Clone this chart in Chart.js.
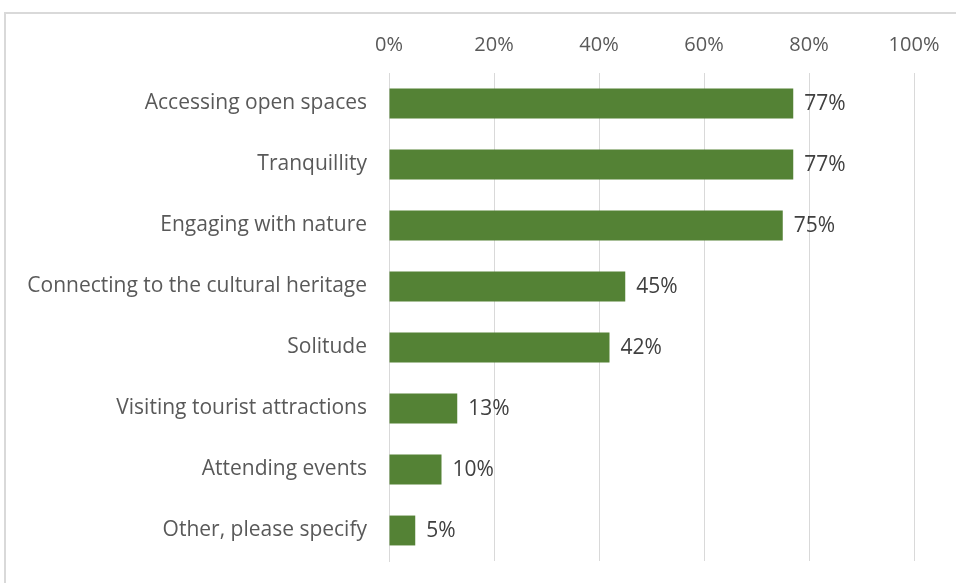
<!DOCTYPE html>
<html>
<head>
<meta charset="utf-8">
<script src="https://cdn.jsdelivr.net/npm/chart.js@4.4.1/dist/chart.umd.min.js"></script>
<style>
  html, body { margin: 0; padding: 0; background: #fff; overflow: hidden; }
  #wrap { position: relative; width: 956px; height: 583px; }
  #frame { position: absolute; left: 4px; top: 12px; width: 1000px; height: 620px;
           border: 2px solid #d9d9d9; box-sizing: border-box; }
  canvas { position: absolute; left: 0; top: 0; }
</style>
</head>
<body>
<div id="wrap">
  <div id="frame"></div>
  <canvas id="chart" width="956" height="583"></canvas>
</div>
<script>
const categories = [
  "Accessing open spaces",
  "Tranquillity",
  "Engaging with nature",
  "Connecting to the cultural heritage",
  "Solitude",
  "Visiting tourist attractions",
  "Attending events",
  "Other, please specify"
];
const shares = [77, 77, 75, 45, 42, 13, 10, 5];
const tickValues = [0, 20, 40, 60, 80, 100];

const FONT = "'Open Sans', Lato, sans-serif";

// Percentage labels to the right of each bar
const valueLabels = {
  id: 'valueLabels',
  afterDatasetsDraw(chart) {
    const ctx = chart.ctx;
    const meta = chart.getDatasetMeta(0);
    ctx.save();
    ctx.font = "21px " + FONT;
    ctx.fillStyle = "#404040";
    ctx.textAlign = "left";
    ctx.textBaseline = "middle";
    meta.data.forEach((bar, i) => {
      ctx.fillText(shares[i] + "%", bar.x + 11, bar.y + 1);
    });
    ctx.restore();
  }
};

new Chart(document.getElementById('chart'), {
  type: 'bar',
  data: {
    labels: categories,
    datasets: [{
      data: shares,
      backgroundColor: '#548235',
      borderWidth: 0,
      barPercentage: 0.49,
      categoryPercentage: 1.0
    }]
  },
  options: {
    indexAxis: 'y',
    responsive: false,
    animation: false,
    layout: { padding: { left: 0, right: 42, top: 0, bottom: 22 } },
    plugins: { legend: { display: false }, tooltip: { enabled: false } },
    scales: {
      x: {
        position: 'top',
        min: 0,
        max: 100,
        afterFit(scale) { scale.height = 73; scale.paddingLeft = 0; scale.paddingRight = 0; },
        afterBuildTicks(scale) { scale.ticks = tickValues.map(v => ({ value: v })); },
        grid: { color: '#d9d9d9', lineWidth: 1, drawTicks: false },
        border: { display: false },
        ticks: {
          padding: 16,
          color: '#595959',
          font: { family: FONT, size: 20 },
          callback: v => v + '%'
        }
      },
      y: {
        afterFit(scale) { scale.width = 389; scale.paddingTop = 0; scale.paddingBottom = 0; },
        grid: { display: false, drawTicks: false },
        border: { display: true, color: '#d9d9d9', width: 1 },
        ticks: {
          padding: 22,
          color: '#595959',
          font: { family: FONT, size: 21 }
        }
      }
    }
  },
  plugins: [valueLabels]
});
</script>
</body>
</html>
